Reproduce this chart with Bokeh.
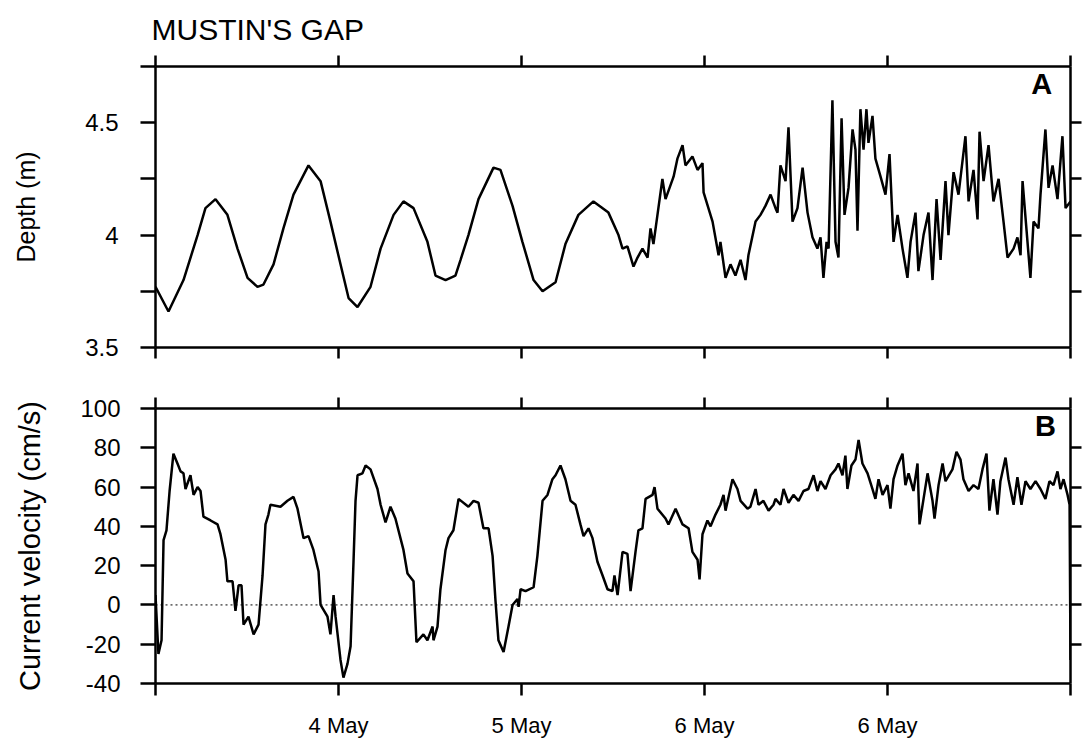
from bokeh.plotting import figure
from bokeh.layouts import column
from bokeh.models import Range1d, LinearAxis, FixedTicker, Label, Span
from bokeh.embed import file_html
from bokeh.resources import INLINE

# ---------------- data ----------------
title_text = "MUSTIN'S GAP"

depth_day = [
    3.000, 3.071, 3.153, 3.230, 3.273, 3.328, 3.393, 3.448, 3.503, 3.557,
    3.590, 3.645, 3.699, 3.754, 3.836, 3.902, 3.956, 4.011, 4.055, 4.104,
    4.175, 4.230, 4.301, 4.355, 4.410, 4.486, 4.530, 4.585, 4.639, 4.667,
    4.710, 4.765, 4.847, 4.885, 4.951, 5.005, 5.066, 5.115, 5.186, 5.240,
    5.311, 5.393, 5.475, 5.530, 5.552, 5.579, 5.612, 5.634, 5.661, 5.689,
    5.705, 5.721, 5.770, 5.787, 5.831, 5.852, 5.880, 5.896, 5.934, 5.962,
    5.989, 5.995, 6.044, 6.077, 6.087, 6.115, 6.142, 6.169, 6.197, 6.224,
    6.240, 6.279, 6.306, 6.333, 6.361, 6.388, 6.399, 6.415, 6.443, 6.459,
    6.481, 6.508, 6.536, 6.563, 6.590, 6.617, 6.634, 6.650, 6.667, 6.678,
    6.699, 6.716, 6.732, 6.749, 6.765, 6.787, 6.809, 6.825, 6.836, 6.852,
    6.869, 6.885, 6.896, 6.918, 6.934, 6.962, 6.989, 7.011, 7.033, 7.055,
    7.082, 7.109, 7.126, 7.153, 7.169, 7.197, 7.224, 7.246, 7.268, 7.290,
    7.317, 7.333, 7.361, 7.388, 7.426, 7.443, 7.470, 7.492, 7.503, 7.525,
    7.552, 7.579, 7.607, 7.634, 7.656, 7.689, 7.710, 7.727, 7.738, 7.760,
    7.781, 7.798, 7.825, 7.836, 7.863, 7.880, 7.902, 7.929, 7.956, 7.973,
    8.000,
]
depth_m = [
    3.77, 3.66, 3.80, 4.00, 4.12, 4.16, 4.09, 3.94, 3.81, 3.77,
    3.78, 3.87, 4.03, 4.18, 4.31, 4.24, 4.06, 3.87, 3.72, 3.68,
    3.77, 3.94, 4.09, 4.15, 4.12, 3.97, 3.82, 3.80, 3.82, 3.89,
    4.00, 4.16, 4.30, 4.29, 4.13, 3.97, 3.80, 3.75, 3.79, 3.96,
    4.09, 4.15, 4.10, 4.00, 3.94, 3.95, 3.86, 3.90, 3.94, 3.90,
    4.03, 3.96, 4.25, 4.16, 4.26, 4.34, 4.40, 4.31, 4.35, 4.29,
    4.32, 4.19, 4.06, 3.91, 3.97, 3.81, 3.87, 3.82, 3.89, 3.80,
    3.91, 4.06, 4.09, 4.13, 4.18, 4.12, 4.10, 4.31, 4.24, 4.48,
    4.06, 4.12, 4.30, 4.10, 3.99, 3.94, 3.99, 3.81, 3.97, 3.94,
    4.60, 3.97, 3.90, 4.52, 4.09, 4.21, 4.47, 4.38, 4.02, 4.56,
    4.38, 4.56, 4.41, 4.53, 4.34, 4.26, 4.18, 4.36, 3.97, 4.09,
    3.94, 3.81, 3.97, 4.10, 3.84, 4.00, 4.10, 3.80, 4.16, 3.89,
    4.24, 4.00, 4.28, 4.18, 4.44, 4.15, 4.29, 4.07, 4.46, 4.24,
    4.40, 4.15, 4.25, 4.06, 3.90, 3.94, 3.99, 3.91, 4.24, 4.02,
    3.81, 4.06, 4.03, 4.18, 4.47, 4.21, 4.31, 4.16, 4.44, 4.12,
    4.15,
]

vel_day = [
    3.000, 3.016, 3.033, 3.044, 3.060, 3.077, 3.098, 3.120, 3.137, 3.153,
    3.164, 3.191, 3.208, 3.230, 3.246, 3.262, 3.301, 3.339, 3.355, 3.383,
    3.393, 3.421, 3.437, 3.454, 3.470, 3.481, 3.508, 3.536, 3.563, 3.585,
    3.601, 3.617, 3.628, 3.683, 3.721, 3.754, 3.776, 3.809, 3.836, 3.863,
    3.891, 3.902, 3.940, 3.956, 3.973, 3.984, 4.011, 4.027, 4.049, 4.066,
    4.082, 4.093, 4.104, 4.131, 4.148, 4.175, 4.213, 4.230, 4.257, 4.284,
    4.311, 4.355, 4.377, 4.410, 4.426, 4.464, 4.486, 4.514, 4.519, 4.541,
    4.557, 4.585, 4.601, 4.628, 4.656, 4.710, 4.738, 4.765, 4.792, 4.820,
    4.842, 4.858, 4.874, 4.902, 4.929, 4.951, 4.978, 4.984, 4.995, 5.022,
    5.066, 5.087, 5.115, 5.142, 5.169, 5.186, 5.213, 5.240, 5.268, 5.295,
    5.322, 5.339, 5.366, 5.388, 5.415, 5.443, 5.470, 5.497, 5.508, 5.525,
    5.552, 5.579, 5.596, 5.623, 5.639, 5.661, 5.678, 5.716, 5.727, 5.743,
    5.787, 5.803, 5.842, 5.880, 5.913, 5.934, 5.962, 5.973, 5.989, 6.016,
    6.033, 6.060, 6.087, 6.104, 6.115, 6.153, 6.180, 6.197, 6.235, 6.251,
    6.279, 6.295, 6.322, 6.350, 6.377, 6.388, 6.415, 6.432, 6.459, 6.486,
    6.514, 6.541, 6.568, 6.596, 6.617, 6.634, 6.661, 6.689, 6.716, 6.732,
    6.754, 6.770, 6.781, 6.803, 6.825, 6.842, 6.863, 6.891, 6.918, 6.934,
    6.951, 6.973, 7.000, 7.016, 7.033, 7.055, 7.082, 7.098, 7.115, 7.142,
    7.164, 7.175, 7.197, 7.219, 7.246, 7.257, 7.279, 7.301, 7.317, 7.355,
    7.377, 7.399, 7.415, 7.443, 7.470, 7.497, 7.519, 7.541, 7.557, 7.579,
    7.601, 7.617, 7.645, 7.661, 7.689, 7.710, 7.732, 7.754, 7.781, 7.809,
    7.836, 7.863, 7.885, 7.907, 7.929, 7.945, 7.962, 7.984, 7.995, 8.000,
]
vel_cms = [
    5, -25, -18, 33, 38, 58, 77, 72, 68, 67,
    59, 66, 56, 60, 58, 45, 43, 41, 36, 23,
    12, 12, -3, 10, 10, -10, -6, -15, -10, 15,
    41, 46, 51, 50, 53, 55, 49, 34, 35, 28,
    17, 0, -6, -15, 5, -6, -28, -37, -30, -21,
    22, 53, 66, 67, 71, 69, 59, 51, 42, 50,
    44, 28, 16, 12, -19, -15, -18, -11, -18, -11,
    8, 28, 34, 38, 54, 50, 53, 52, 39, 39,
    25, 2, -18, -24, -11, 0, 3, -1, 8, 7,
    9, 25, 53, 56, 64, 66, 71, 64, 53, 51,
    41, 35, 39, 34, 22, 15, 8, 7, 15, 5,
    27, 26, 7, 27, 38, 39, 54, 56, 60, 49,
    44, 41, 49, 41, 39, 27, 23, 13, 36, 43,
    40, 46, 51, 56, 48, 64, 59, 53, 49, 50,
    59, 51, 53, 48, 51, 54, 51, 59, 52, 56,
    53, 58, 59, 66, 58, 63, 59, 66, 69, 72,
    66, 76, 59, 71, 74, 84, 72, 67, 59, 54,
    64, 56, 61, 49, 64, 71, 77, 61, 67, 58,
    72, 41, 54, 67, 53, 44, 61, 72, 63, 69,
    78, 74, 64, 58, 61, 59, 69, 77, 48, 64,
    46, 63, 75, 64, 51, 65, 51, 63, 59, 63,
    59, 54, 63, 61, 68, 59, 64, 56, 51, -28,
]

x_ticks = [3, 4, 5, 6, 7, 8]
x_tick_labels = ["", "4 May", "5 May", "6 May", "6 May", ""]
depth_ticks = [3.5, 3.75, 4.0, 4.25, 4.5, 4.75]
depth_tick_labels = ["3.5", "", "4", "", "4.5", ""]
depth_right_ticks = [3.75, 4.0, 4.25, 4.5]
vel_ticks = [-40, -20, 0, 20, 40, 60, 80, 100]
vel_tick_labels = ["-40", "-20", "0", "20", "40", "60", "80", "100"]
vel_right_ticks = [-20, 0, 20, 40, 60, 80]

FONT = "Liberation Sans"


def style_axis(ax, ticks, labels=None, tick_out=12, size="24px", standoff=20):
    ax.ticker = FixedTicker(ticks=ticks, minor_ticks=[])
    ax.axis_line_width = 2.5
    ax.axis_line_color = "black"
    ax.major_tick_line_width = 2.5
    ax.major_tick_line_color = "black"
    ax.major_tick_out = tick_out
    ax.major_tick_in = 0
    ax.minor_tick_line_color = None
    if labels is None:
        ax.major_label_overrides = {t: "" for t in ticks}
        ax.major_label_text_font_size = "0px"
        ax.major_label_standoff = 0
    else:
        ax.major_label_overrides = {t: l for t, l in zip(ticks, labels)}
        ax.major_label_text_font = FONT
        ax.major_label_text_font_size = size
        ax.major_label_text_color = "black"
        ax.major_label_standoff = standoff


def label_axis(ax, text, size, standoff):
    ax.axis_label = text
    ax.axis_label_text_font = FONT
    ax.axis_label_text_font_size = size
    ax.axis_label_text_font_style = "normal"
    ax.axis_label_text_color = "black"
    ax.axis_label_standoff = standoff


def base(height, y_range, top, bottom):
    p = figure(width=1083, height=height, x_range=Range1d(3, 8), y_range=y_range,
               output_backend="svg", toolbar_location=None, tools="",
               min_border_left=155, min_border_right=13,
               min_border_top=top, min_border_bottom=bottom)
    p.outline_line_color = None
    p.xgrid.visible = False
    p.ygrid.visible = False
    p.background_fill_color = "white"
    p.border_fill_color = "white"
    return p


# ---------------- panel A: depth ----------------
p1 = base(378, Range1d(3.5, 4.75), 65, 31)
p1.line(depth_day, depth_m, line_color="black", line_width=2.5)
style_axis(p1.xaxis[0], x_ticks, None, tick_out=11)
left_a = p1.yaxis[0]
style_axis(left_a, depth_ticks, depth_tick_labels, tick_out=15, size="24px", standoff=22)
label_axis(left_a, "Depth (m)", "25px", 42)
ra = LinearAxis()
style_axis(ra, depth_right_ticks, None, tick_out=11)
p1.add_layout(ra, "right")
ta = LinearAxis()
style_axis(ta, x_ticks, None, tick_out=11)
p1.add_layout(ta, "above")
p1.title.text = title_text
p1.title.text_font = FONT
p1.title.text_font_size = "30px"
p1.title.text_font_style = "normal"
p1.title.text_color = "black"
p1.title.align = "left"
p1.title.offset = -4
p1.title.standoff = 20
p1.add_layout(Label(x=7.90, y=4.745, text="A", text_align="right", text_baseline="top",
                    text_font=FONT, text_font_size="29px", text_font_style="bold",
                    text_color="black"))

# ---------------- panel B: velocity ----------------
p2 = base(362, Range1d(-40, 100), 30, 49)
p2.add_layout(Span(location=0, dimension="width", line_color="black",
                   line_width=1, line_dash="2 3"))
p2.line(vel_day, vel_cms, line_color="black", line_width=2.5)
style_axis(p2.xaxis[0], x_ticks, x_tick_labels, tick_out=12, size="22px", standoff=17)
left_b = p2.yaxis[0]
style_axis(left_b, vel_ticks, vel_tick_labels, tick_out=15, size="24px", standoff=20)
label_axis(left_b, "Current velocity (cm/s)", "29px", 31)
rb = LinearAxis()
style_axis(rb, vel_right_ticks, None, tick_out=11)
p2.add_layout(rb, "right")
tb = LinearAxis()
style_axis(tb, x_ticks, None, tick_out=11)
p2.add_layout(tb, "above")
p2.add_layout(Label(x=7.92, y=99, text="B", text_align="right", text_baseline="top",
                    text_font=FONT, text_font_size="29px", text_font_style="bold",
                    text_color="black"))

layout = column(p1, p2, spacing=0)
open("out.html", "w").write(file_html(layout, INLINE))
